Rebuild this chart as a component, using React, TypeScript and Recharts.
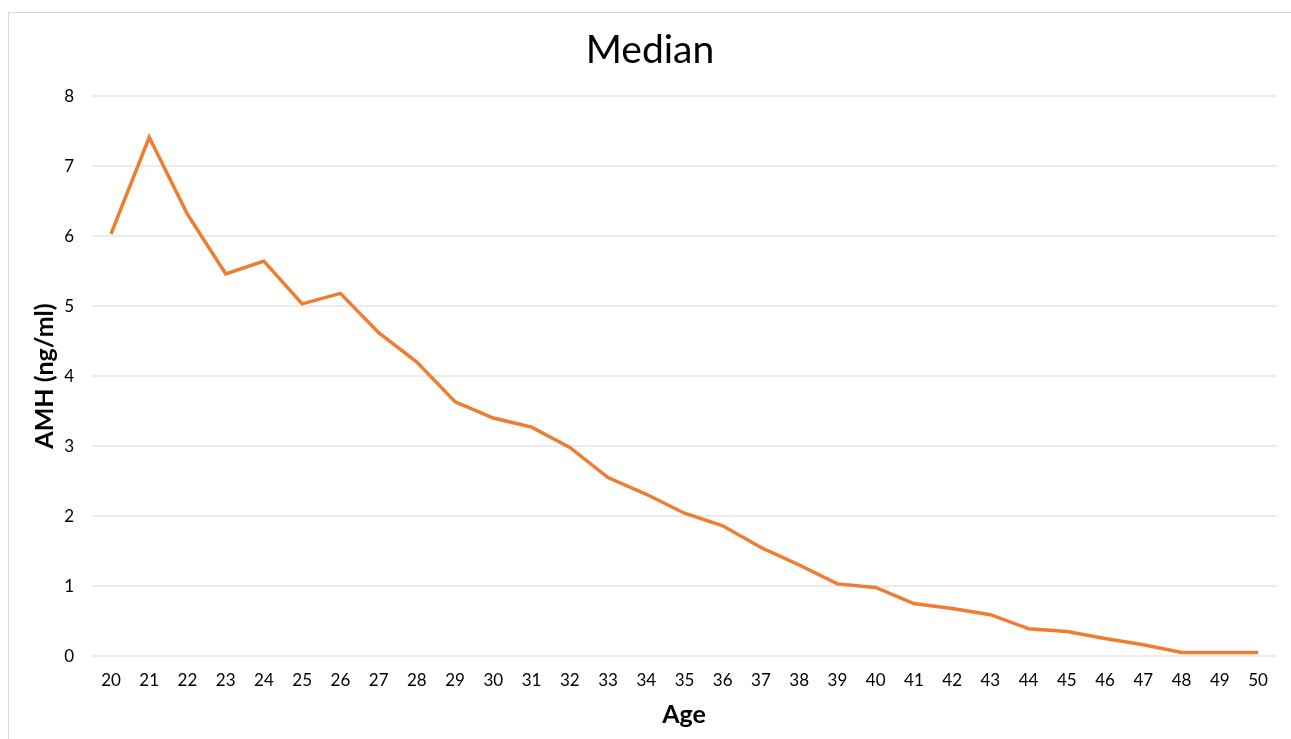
import React from "react";
import { LineChart, Line, XAxis, YAxis, CartesianGrid } from "recharts";

const ages = [
  "20", "21", "22", "23", "24", "25", "26", "27", "28", "29", "30",
  "31", "32", "33", "34", "35", "36", "37", "38", "39", "40",
  "41", "42", "43", "44", "45", "46", "47", "48", "49", "50",
];
const medianAmh = [
  6.03, 7.41, 6.31, 5.46, 5.64, 5.03, 5.18, 4.62, 4.2, 3.63, 3.4,
  3.27, 2.98, 2.55, 2.31, 2.04, 1.86, 1.55, 1.3, 1.03, 0.98,
  0.75, 0.68, 0.59, 0.39, 0.35, 0.25, 0.16, 0.05, 0.05, 0.05,
];
const yTicks = [0, 1, 2, 3, 4, 5, 6, 7, 8];
const title = "Median";
const xTitle = "Age";
const yTitle = "AMH (ng/ml)";

const data = ages.map((a, i) => ({ age: a, median: medianAmh[i] }));

const FONT = "Lato, 'Open Sans', sans-serif";

export default function App() {
  return (
    <div style={{ position: "relative", width: 1275, height: 719, marginTop: 4 }}>
      <div
        style={{
          position: "fixed",
          left: 8,
          top: 12,
          right: -20,
          bottom: -20,
          borderTop: "1px solid #d9d9d9",
          borderLeft: "1px solid #d9d9d9",
          pointerEvents: "none",
        }}
      />
      <LineChart
        width={1275}
        height={719}
        data={data}
        margin={{ top: 84, right: 6, bottom: 45, left: 24 }}
      >
        <CartesianGrid vertical={false} stroke="#d9d9d9" strokeWidth={1} />
        <XAxis
          dataKey="age"
          axisLine={false}
          tickLine={false}
          tickSize={0}
          tickMargin={18}
          height={30}
          interval={0}
          padding={{ left: 19, right: 19 }}
          tick={{ fill: "#000", fontSize: 17, fontFamily: FONT }}
        />
        <YAxis
          domain={[0, 8]}
          ticks={yTicks}
          axisLine={false}
          tickLine={false}
          tickSize={0}
          tickMargin={18}
          width={60}
          tick={{ fill: "#000", fontSize: 17, fontFamily: FONT }}
        />
        <Line
          type="linear"
          dataKey="median"
          stroke="#ED7D31"
          strokeWidth={3.5}
          dot={false}
          activeDot={false}
          isAnimationActive={false}
        />
      </LineChart>
      <svg
        width={1275}
        height={719}
        style={{ position: "absolute", left: 0, top: 0, pointerEvents: "none" }}
      >
        <text x={642} y={51} textAnchor="middle" fontFamily={FONT} fontSize={39} fill="#000">
          {title}
        </text>
        <text x={676} y={711} textAnchor="middle" fontFamily={FONT} fontSize={25} fontWeight="bold" fill="#000">
          {xTitle}
        </text>
        <text
          transform="translate(45,364) rotate(-90)"
          textAnchor="middle"
          fontFamily={FONT}
          fontSize={25}
          fontWeight="bold"
          fill="#000"
        >
          {yTitle}
        </text>
      </svg>
    </div>
  );
}
